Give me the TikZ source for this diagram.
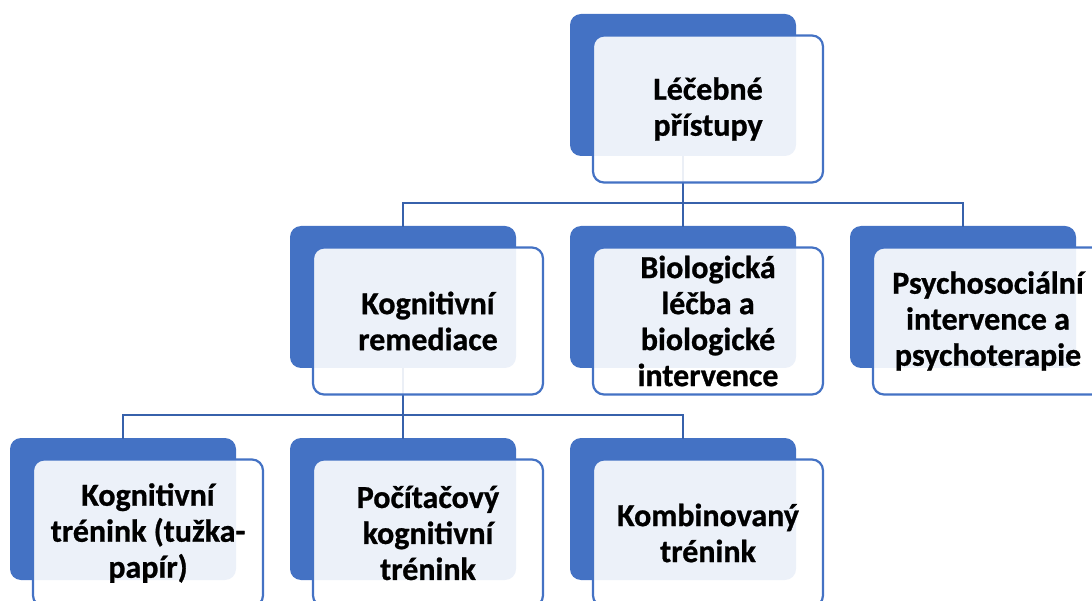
\documentclass[tikz,border=0pt]{standalone}
\usepackage{fontspec}
\setmainfont{Carlito}[BoldFeatures={FakeBold=0.8}]
\definecolor{accent}{HTML}{4472C4}
\definecolor{linkblue}{HTML}{3761AB}
\begin{document}
\begin{tikzpicture}[x=1pt,y=-1pt,
  back/.style={fill=accent, rounded corners=11pt, minimum width=226pt,
    minimum height=142pt, inner sep=0pt},
  front/.style={draw=accent, line width=2.2pt, fill=white, fill opacity=0.9,
    text opacity=1, rounded corners=11pt, minimum width=230pt,
    minimum height=147pt, inner sep=0pt, align=center,
    font=\bfseries\fontsize{32}{36}\selectfont},
  link/.style={draw=linkblue, line width=2.6pt}]
\useasboundingbox (0,0) rectangle (1092,601);
\clip (0,0) rectangle (1092,601);

% solid back panels
\node[back] (b0) at (683,85) {};
\node[back] (b1) at (403,297) {};
\node[back] (b2) at (683,297) {};
\node[back] (b3) at (963,297) {};
\node[back] (b4) at (123,509) {};
\node[back] (b5) at (403,509) {};
\node[back] (b6) at (683,509) {};

% bus lines
\coordinate (bus1) at (683,203);
\coordinate (bus2) at (403,415);
\draw[link] (b0.south) -- (bus1);
\draw[link] (bus1) -| ([yshift=-1.5pt]b1.north);
\draw[link] (bus1) -- ([yshift=-1.5pt]b2.north);
\draw[link] (bus1) -| ([yshift=-1.5pt]b3.north);
\draw[link] (b1.south) -- (bus2);
\draw[link] (bus2) -| ([yshift=-1.5pt]b4.north);
\draw[link] (bus2) -- ([yshift=-1.5pt]b5.north);
\draw[link] (bus2) -| ([yshift=-1.5pt]b6.north);

% translucent front panels with labels
\node[front] (f0) at (708,109) {Léčebné\\přístupy};
\node[front] (f1) at (428,321) {Kognitivní\\remediace};
\node[front] (f2) at (708,321) {Biologická\\léčba a\\biologické\\intervence};
\node[front] (f3) at (988,321) {Psychosociální\\intervence a\\psychoterapie};
\node[front] (f4) at (148,533) {Kognitivní\\trénink (tužka-\\papír)};
\node[front] (f5) at (428,533) {Počítačový\\kognitivní\\trénink};
\node[front] (f6) at (708,533) {Kombinovaný\\trénink};
\end{tikzpicture}
\end{document}
